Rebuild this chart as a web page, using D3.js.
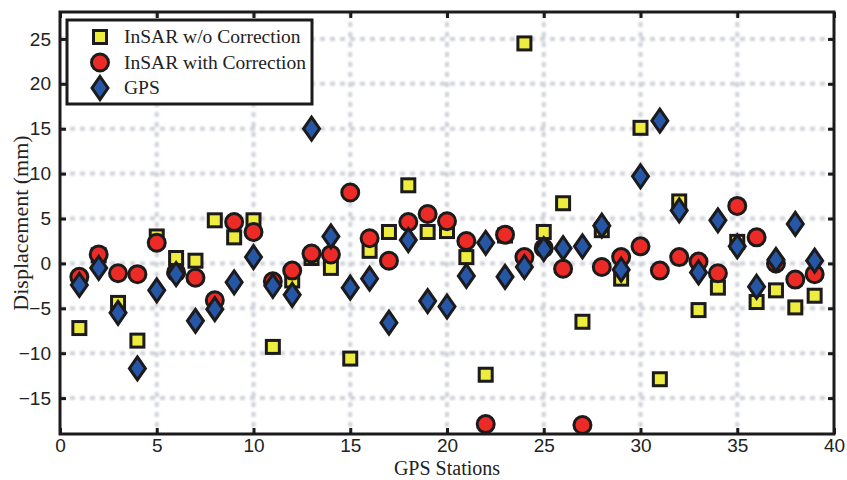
<!DOCTYPE html>
<html>
<head>
<meta charset="utf-8">
<script src="https://cdn.jsdelivr.net/npm/d3@7"></script>
<style>
  body { margin: 0; background: #fff; }
  .tick text { font-family: "Liberation Sans", Arial, sans-serif; font-size: 19px; fill: #222; }
  .serif { font-family: "Liberation Serif", "Times New Roman", serif; font-size: 19.5px; fill: #222; }
</style>
</head>
<body>
<script>
const stations = d3.range(1, 40);

// InSAR w/o correction (yellow squares)
const insarRaw = [-7.2, 0.9, -4.4, -8.6, 3.0, 0.6, 0.3, 4.8, 2.9, 4.8,
  -9.3, -1.9, 0.6, -0.5, -10.6, 1.4, 3.5, 8.7, 3.5, 3.6,
  0.7, -12.4, 3.1, 24.5, 3.5, 6.7, -6.5, 3.7, -1.7, 15.1,
  -12.9, 6.9, -5.2, -2.7, 2.4, -4.3, -3.0, -4.9, -3.6];

// InSAR with correction (red circles)
const insarCorr = [-1.5, 1.0, -1.1, -1.2, 2.3, -1.0, -1.6, -4.1, 4.6, 3.5,
  -2.0, -0.8, 1.1, 1.0, 7.9, 2.8, 0.3, 4.6, 5.5, 4.7,
  2.5, -17.9, 3.2, 0.7, 1.7, -0.6, -18.0, -0.4, 0.7, 1.9,
  -0.8, 0.7, 0.2, -1.1, 6.4, 2.9, 0.0, -1.8, -1.2];

// GPS (blue diamonds)
const gps = [-2.4, -0.5, -5.5, -11.7, -3.0, -1.2, -6.4, -5.1, -2.1, 0.7,
  -2.5, -3.5, 15.0, 3.0, -2.7, -1.7, -6.6, 2.6, -4.2, -4.8,
  -1.4, 2.3, -1.5, -0.4, 1.6, 1.7, 1.9, 4.2, -0.7, 9.7,
  15.9, 5.9, -1.0, 4.8, 1.9, -2.6, 0.4, 4.4, 0.3];

const xTicks = [0, 5, 10, 15, 20, 25, 30, 35, 40];
const yTicks = [-15, -10, -5, 0, 5, 10, 15, 20, 25];
const legendLabels = ["InSAR w/o Correction", "InSAR with Correction", "GPS"];

const colors = {
  yellow: "#eeec3c",
  red: "#ec2a26",
  blue: "#2656a6",
  edge: "#1c1a1a",
  grid: "#cfd2d8"
};

const w = 847, h = 480;
const margin = { top: 12, right: 13, bottom: 46, left: 60 };

const x = d3.scaleLinear().domain([0, 40]).range([margin.left, w - margin.right]);
const y = d3.scaleLinear().domain([-19, 28]).range([h - margin.bottom, margin.top]);

const svg = d3.select("body").append("svg")
  .attr("width", w)
  .attr("height", h);

svg.append("defs").append("filter")
  .attr("id", "soft")
  .append("feGaussianBlur")
  .attr("stdDeviation", 1.2);

// dashed, soft grid
const grid = svg.append("g").attr("filter", "url(#soft)")
  .attr("stroke", colors.grid).attr("stroke-width", 4).attr("stroke-dasharray", "5,5");
grid.selectAll(".gx").data(xTicks.slice(1, -1)).enter().append("line")
  .attr("x1", d => x(d)).attr("x2", d => x(d))
  .attr("y1", y(28)).attr("y2", y(-19));
grid.selectAll(".gy").data(yTicks).enter().append("line")
  .attr("x1", x(0)).attr("x2", x(40))
  .attr("y1", d => y(d)).attr("y2", d => y(d));

// axes, ticks inside on all four sides
const tickLen = 6;
const axisStyle = g => {
  g.select(".domain").remove();
  g.selectAll(".tick line").attr("stroke", colors.edge).attr("stroke-width", 3);
};
svg.append("g")
  .attr("transform", `translate(0,${y(-19)})`)
  .call(d3.axisBottom(x).tickValues(xTicks).tickSize(-tickLen).tickPadding(5).tickFormat(d3.format("d")))
  .call(axisStyle);
svg.append("g")
  .attr("transform", `translate(0,${y(28)})`)
  .call(d3.axisTop(x).tickValues(xTicks).tickSize(-tickLen).tickFormat(""))
  .call(axisStyle);
svg.append("g")
  .attr("transform", `translate(${x(0)},0)`)
  .call(d3.axisLeft(y).tickValues(yTicks).tickSize(-tickLen).tickPadding(9)
    .tickFormat(d => d < 0 ? "\u2212" + Math.abs(d) : d))
  .call(axisStyle);
svg.append("g")
  .attr("transform", `translate(${x(40)},0)`)
  .call(d3.axisRight(y).tickValues(yTicks).tickSize(-tickLen).tickFormat(""))
  .call(axisStyle);

svg.append("rect")
  .attr("x", x(0)).attr("y", y(28))
  .attr("width", x(40) - x(0)).attr("height", y(-19) - y(28))
  .attr("fill", "none").attr("stroke", colors.edge).attr("stroke-width", 3);

// markers
const sq = 6.5, rc = 8.5, dw = 8, dh = 11.5;
const diamond = `M0,${-dh}L${dw},0L0,${dh}L${-dw},0Z`;

const drawSquares = (g, data) => g.selectAll("rect").data(data).enter().append("rect")
  .attr("x", d => x(d[0]) - sq).attr("y", d => y(d[1]) - sq)
  .attr("width", sq * 2).attr("height", sq * 2)
  .attr("fill", colors.yellow).attr("stroke", colors.edge).attr("stroke-width", 3);
const drawCircles = (g, data) => g.selectAll("circle").data(data).enter().append("circle")
  .attr("cx", d => x(d[0])).attr("cy", d => y(d[1])).attr("r", rc)
  .attr("fill", colors.red).attr("stroke", colors.edge).attr("stroke-width", 3);
const drawDiamonds = (g, data) => g.selectAll("path").data(data).enter().append("path")
  .attr("d", diamond)
  .attr("transform", d => `translate(${x(d[0])},${y(d[1])})`)
  .attr("fill", colors.blue).attr("stroke", colors.edge).attr("stroke-width", 3);

drawSquares(svg.append("g"), stations.map((s, i) => [s, insarRaw[i]]));
drawCircles(svg.append("g"), stations.map((s, i) => [s, insarCorr[i]]));
drawDiamonds(svg.append("g"), stations.map((s, i) => [s, gps[i]]));

// axis titles
svg.append("text").attr("class", "serif")
  .attr("x", (x(0) + x(40)) / 2).attr("y", 475)
  .attr("text-anchor", "middle")
  .style("font-size", "20px")
  .text("GPS Stations");
svg.append("text").attr("class", "serif")
  .attr("transform", `translate(28,${(y(-19) + y(28)) / 2}) rotate(-90)`)
  .attr("text-anchor", "middle")
  .style("font-size", "22px")
  .text("Displacement (mm)");

// legend
const legend = svg.append("g");
legend.append("rect")
  .attr("x", 67).attr("y", 20).attr("width", 245).attr("height", 84)
  .attr("fill", "#fff").attr("stroke", colors.edge).attr("stroke-width", 3);
const rowY = i => 37 + i * 25.5;
legend.append("rect")
  .attr("x", 100 - sq).attr("y", rowY(0) - sq).attr("width", sq * 2).attr("height", sq * 2)
  .attr("fill", colors.yellow).attr("stroke", colors.edge).attr("stroke-width", 3);
legend.append("circle")
  .attr("cx", 100).attr("cy", rowY(1)).attr("r", rc)
  .attr("fill", colors.red).attr("stroke", colors.edge).attr("stroke-width", 3);
legend.append("path")
  .attr("d", diamond).attr("transform", `translate(100,${rowY(2)})`)
  .attr("fill", colors.blue).attr("stroke", colors.edge).attr("stroke-width", 3);
legend.selectAll("text").data(legendLabels).enter().append("text")
  .attr("class", "serif")
  .attr("x", 124).attr("y", (d, i) => rowY(i) + 6)
  .text(d => d);
</script>
</body>
</html>
